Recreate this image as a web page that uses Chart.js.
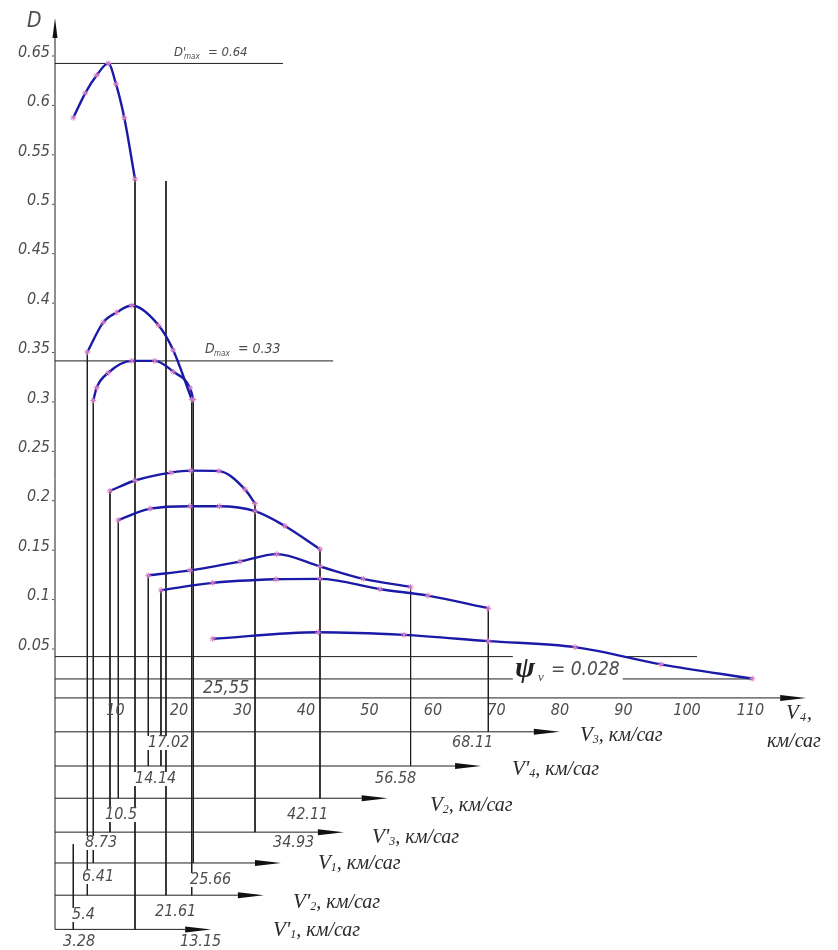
<!DOCTYPE html>
<html>
<head>
<meta charset="utf-8">
<script src="https://cdn.jsdelivr.net/npm/chart.js@4.4.0/dist/chart.umd.min.js"></script>
<style>
  html, body { margin: 0; padding: 0; background: #fff; }
  canvas { display: block; }
</style>
</head>
<body>
<canvas id="chart" width="838" height="950"></canvas>
<script>
// main axis ticks
const xTicks = [10, 20, 30, 40, 50, 60, 70, 80, 90, 100, 110];
const yTicks = [0.05, 0.1, 0.15, 0.2, 0.25, 0.3, 0.35, 0.4, 0.45, 0.5, 0.55, 0.6, 0.65];
const yTickLabels = ["0.05", "0.1", "0.15", "0.2", "0.25", "0.3", "0.35", "0.4", "0.45", "0.5", "0.55", "0.6", "0.65"];

// dynamic factor curves, V4 scale (km/h) and D
const curveAV = [2.88, 4.77, 6.57, 8.39, 9.61, 10.91, 12.6];
const curveAD = [0.587, 0.612, 0.630, 0.642, 0.621, 0.587, 0.525];
const curveBV = [5.09, 7.6, 9.7, 12.1, 16.3, 18.6, 21.53];
const curveBD = [0.350, 0.380, 0.390, 0.397, 0.377, 0.352, 0.302];
const curveCV = [6.03, 6.57, 8.39, 12.08, 15.75, 18.63, 21.26, 21.78];
const curveCD = [0.301, 0.314, 0.329, 0.341, 0.341, 0.330, 0.3135, 0.302];
const curveDV = [8.66, 12.6, 18.27, 21.42, 25.8, 29.92, 31.5];
const curveDD = [0.2095, 0.220, 0.228, 0.230, 0.2295, 0.211, 0.1966];
const curveEV = [9.97, 14.96, 21.26, 25.87, 31.5, 36.2, 41.73];
const curveED = [0.180, 0.1915, 0.194, 0.194, 0.189, 0.174, 0.1505];
const curveFV = [14.69, 21.26, 29.13, 34.91, 41.73, 48.55, 56.0];
const curveFD = [0.124, 0.129, 0.138, 0.1455, 0.133, 0.1205, 0.1124];
const curveGV = [16.69, 24.83, 34.8, 41.73, 51.18, 58.74, 68.24];
const curveGD = [0.109, 0.1164, 0.120, 0.1205, 0.110, 0.1035, 0.0907];
const curveHV = [24.83, 41.46, 54.96, 68.24, 81.9, 95.43, 109.8];
const curveHD = [0.0598, 0.0665, 0.0638, 0.0575, 0.0514, 0.034, 0.0195];

// reference levels
const dMaxPrime = 0.642;
const dMax = 0.341;
const psiHigh = 0.0418;
const psiLow = 0.0192;

// gear speed axes under the chart
const auxNames = ["V", "V'", "V", "V'", "V", "V'", "V'"];
const auxSubs = ["3", "4", "2", "3", "1", "2", "1"];
const auxStartText = ["17.02", "14.14", "10.5", "8.73", "6.41", "5.4", "3.28"];
const auxEndText = ["68.11", "56.58", "42.11", "34.93", "25.66", "21.61", "13.15"];

// drop lines: speed, top D, target gear axis
const dropV = [2.88, 5.09, 6.03, 8.66, 9.97, 12.6, 14.69, 16.69, 17.48, 21.53, 21.78, 31.5, 41.73, 56.0, 68.24];
const dropTop = [-0.148, 0.350, 0.301, 0.2095, 0.180, 0.525, 0.124, 0.109, 0.523, 0.302, 0.302, 0.1966, 0.1505, 0.1124, 0.0907];
const dropAxis = [6, 5, 4, 3, 2, 6, 1, 1, 5, 5, 4, 3, 2, 1, 0];

// layout
const auxLevel = [-0.0343, -0.0689, -0.1015, -0.1358, -0.167, -0.1996, -0.2342];
const auxArrowV = [75.4, 63.0, 48.3, 41.4, 31.5, 28.8, 20.5];
const auxNamePos = [[580, 735], [512, 769], [430, 805], [372, 837], [318, 863], [293, 902], [273, 930]];
const auxStartPos = [[148, 743], [135, 779], [105, 815], [85, 843], [82, 877], [72, 915], [63, 942]];
const auxEndPos = [[452, 743], [375, 779], [287, 815], [273, 843], [190, 880], [155, 912], [180, 942]];

const CURVE = "#1a1aa6";
const MARK = "#d67cc4";
const INK = "#1e1e1e";
const GREY = "#4d4d4d";
const NUMFONT = '"Liberation Sans Narrow", "DejaVu Sans Condensed", "Liberation Sans", sans-serif';
const SERIF = '"Liberation Serif", "DejaVu Serif", serif';

function pts(vs, ds) {
    return vs.map((v, i) => ({ x: v, y: ds[i] }));
}

function curve(vs, ds) {
    return {
        data: pts(vs, ds),
        showLine: true,
        borderColor: CURVE,
        borderWidth: 2.4,
        cubicInterpolationMode: "monotone",
        pointStyle: "star",
        pointRadius: 3,
        pointBorderColor: MARK,
        pointBorderWidth: 1,
        pointBackgroundColor: MARK,
        clip: false
    };
}

function rule(points) {
    return {
        data: points,
        showLine: true,
        borderColor: INK,
        borderWidth: 1,
        pointRadius: 0,
        clip: false
    };
}

var datasets = [
    curve(curveAV, curveAD), curve(curveBV, curveBD), curve(curveCV, curveCD), curve(curveDV, curveDD),
    curve(curveEV, curveED), curve(curveFV, curveFD), curve(curveGV, curveGD), curve(curveHV, curveHD)
];

// axes
datasets.push(rule([{ x: 0, y: auxLevel[6] }, { x: 0, y: 0.676 }]));
datasets.push(rule([{ x: 0, y: 0 }, { x: 114.2, y: 0 }]));
auxLevel.forEach((lv, i) => {
    datasets.push(rule([{ x: 0, y: lv }, { x: auxArrowV[i], y: lv }]));
});
// reference lines
datasets.push(rule([{ x: 0, y: dMaxPrime }, { x: 35.9, y: dMaxPrime }]));
datasets.push(rule([{ x: 0, y: dMax }, { x: 43.8, y: dMax }]));
datasets.push(rule([{ x: 0, y: psiHigh }, { x: 72.1, y: psiHigh }]));
datasets.push(rule([{ x: 89.4, y: psiHigh }, { x: 101.1, y: psiHigh }]));
datasets.push(rule([{ x: 0, y: psiLow }, { x: 72.1, y: psiLow }]));
datasets.push(rule([{ x: 89.4, y: psiLow }, { x: 109.9, y: psiLow }]));
// drop lines
dropV.forEach((v, i) => {
    datasets.push(rule([{ x: v, y: dropTop[i] }, { x: v, y: auxLevel[dropAxis[i]] }]));
});

function text(ctx, s, x, y, font, color, align, bg) {
    ctx.font = font;
    ctx.textAlign = align || "left";
    ctx.textBaseline = "middle";
    if (bg) {
        var w = ctx.measureText(s).width;
        var x0 = align === "center" ? x - w / 2 : (align === "right" ? x - w : x);
        ctx.fillStyle = "#fff";
        ctx.fillRect(x0 - 1, y - 7, w + 2, 14);
    }
    ctx.fillStyle = color;
    ctx.fillText(s, x, y);
}

function arrowRight(ctx, x, y) {
    ctx.beginPath();
    ctx.moveTo(x, y - 3);
    ctx.lineTo(x + 26, y);
    ctx.lineTo(x, y + 3);
    ctx.closePath();
    ctx.fillStyle = "#111";
    ctx.fill();
}

function speedName(ctx, x, y, main, sub) {
    ctx.textBaseline = "alphabetic";
    ctx.textAlign = "left";
    ctx.fillStyle = "#2a2a2a";
    ctx.font = "italic 21px " + SERIF;
    ctx.fillText(main, x, y + 6);
    var w = ctx.measureText(main).width;
    ctx.font = "italic 12px " + SERIF;
    ctx.fillText(sub, x + w, y + 8);
    var w2 = ctx.measureText(sub).width;
    ctx.font = "italic 20px " + SERIF;
    ctx.fillText(", км/саг", x + w + w2, y + 6);
}

const drawingPlugin = {
    id: "drawing",
    afterDatasetsDraw(chart) {
        var ctx = chart.ctx;
        var xs = chart.scales.x, ys = chart.scales.y;
        var x0 = xs.getPixelForValue(0), y0 = ys.getPixelForValue(0);
        ctx.save();

        // axis arrows
        ctx.beginPath();
        ctx.moveTo(x0, 18);
        ctx.lineTo(x0 + 2.5, 38);
        ctx.lineTo(x0 - 2.5, 38);
        ctx.closePath();
        ctx.fillStyle = "#111";
        ctx.fill();
        arrowRight(ctx, xs.getPixelForValue(114.2), y0);
        auxLevel.forEach((lv, i) => arrowRight(ctx, xs.getPixelForValue(auxArrowV[i]), ys.getPixelForValue(lv)));

        // axis ticks
        text(ctx, "D", 27, 22, "italic 21px " + NUMFONT, GREY);
        yTicks.forEach((v, i) => {
            var py = ys.getPixelForValue(v);
            text(ctx, yTickLabels[i], x0 - 5, py - 3, "italic 16px " + NUMFONT, GREY, "right");
            ctx.fillStyle = GREY;
            ctx.fillRect(x0 - 3, py, 2, 1);
        });
        xTicks.forEach(v => {
            text(ctx, String(v), xs.getPixelForValue(v) - 3, y0 + 13, "italic 16px " + NUMFONT, GREY, "center");
        });

        // gear axes labels
        auxLevel.forEach((lv, i) => {
            text(ctx, auxStartText[i], auxStartPos[i][0], auxStartPos[i][1], "italic 16px " + NUMFONT, GREY, "left", true);
            text(ctx, auxEndText[i], auxEndPos[i][0], auxEndPos[i][1], "italic 16px " + NUMFONT, GREY, "left", true);
            speedName(ctx, auxNamePos[i][0], auxNamePos[i][1], auxNames[i], auxSubs[i]);
        });
        ctx.fillStyle = "#2a2a2a";
        ctx.textBaseline = "alphabetic";
        ctx.font = "italic 21px " + SERIF;
        ctx.fillText("V", 786, 719);
        ctx.font = "italic 12px " + SERIF;
        ctx.fillText("4", 800, 721);
        ctx.font = "italic 20px " + SERIF;
        ctx.fillText(",", 807, 719);
        ctx.fillText("км/саг", 767, 747);

        // reference labels
        var ym = ys.getPixelForValue(dMaxPrime);
        ctx.textBaseline = "alphabetic";
        ctx.fillStyle = GREY;
        ctx.font = "italic 13px " + NUMFONT;
        ctx.fillText("D'", 174, ym - 7);
        ctx.font = "italic 8px " + NUMFONT;
        ctx.fillText("max", 184, ym - 4);
        ctx.font = "italic 13px " + NUMFONT;
        ctx.fillText("= 0.64", 208, ym - 7);

        var yd = ys.getPixelForValue(dMax);
        ctx.font = "italic 14px " + NUMFONT;
        ctx.fillText("D", 205, yd - 8);
        ctx.font = "italic 8px " + NUMFONT;
        ctx.fillText("max", 214, yd - 5);
        ctx.font = "italic 14px " + NUMFONT;
        ctx.fillText("= 0.33", 238, yd - 8);

        // psi label
        var yp = (ys.getPixelForValue(psiHigh) + ys.getPixelForValue(psiLow)) / 2;
        ctx.fillStyle = "#fff";
        ctx.fillRect(600, yp - 9, 22, 18);
        ctx.fillStyle = "#222";
        ctx.font = "bold italic 30px " + SERIF;
        ctx.fillText("\u03c8", 515, yp + 9);
        ctx.font = "italic 13px " + SERIF;
        ctx.fillStyle = GREY;
        ctx.fillText("v", 538, yp + 13);
        ctx.font = "italic 19px " + NUMFONT;
        ctx.fillText("= 0.028", 551, yp + 7);

        text(ctx, "25,55", 203, 688, "italic 18px " + NUMFONT, GREY, "left", true);

        ctx.restore();
    }
};

new Chart(document.getElementById("chart"), {
    type: "scatter",
    data: { datasets: datasets },
    options: {
        responsive: false,
        animation: false,
        devicePixelRatio: 1,
        layout: { padding: { left: 55, right: 21, top: 6.1, bottom: 1.5 } },
        scales: {
            x: { type: "linear", min: 0, max: 120, display: false },
            y: { type: "linear", min: -0.25, max: 0.7, display: false }
        },
        plugins: {
            legend: { display: false },
            tooltip: { enabled: false }
        }
    },
    plugins: [drawingPlugin]
});
</script>
</body>
</html>
